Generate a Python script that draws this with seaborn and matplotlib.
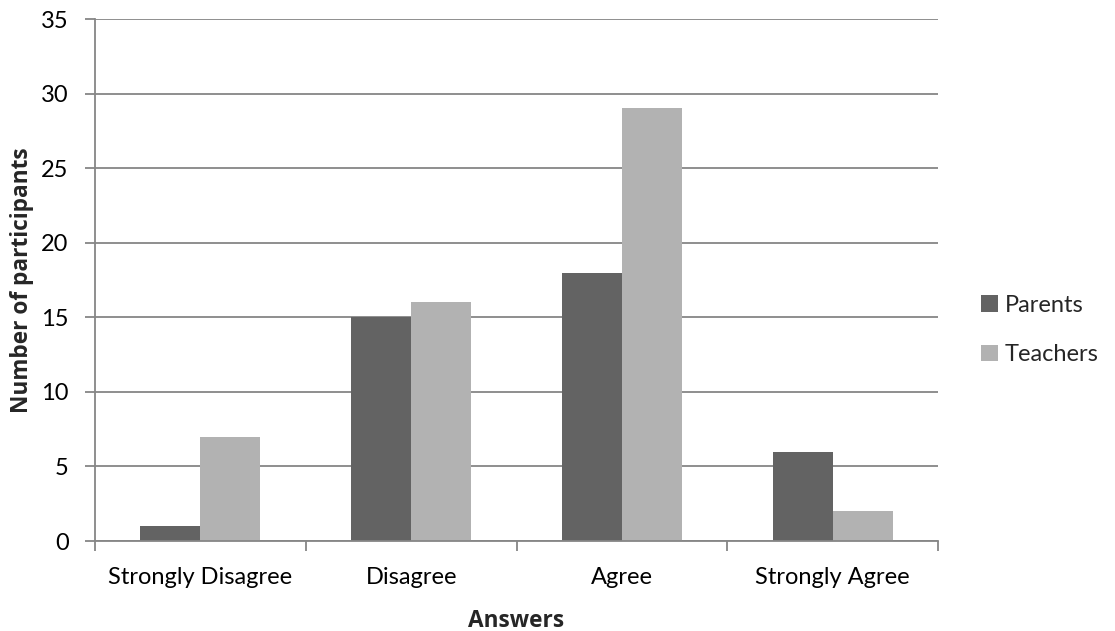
import matplotlib
matplotlib.use("Agg")
import matplotlib.pyplot as plt
from matplotlib.ticker import FixedLocator, MultipleLocator
import seaborn as sns
import pandas as pd

# Survey responses by group
answers = ["Strongly Disagree", "Disagree", "Agree", "Strongly Agree"]
parents = [1, 15, 18, 6]
teachers = [7, 16, 29, 2]
groups = ["Parents", "Teachers"]
group_colors = ["#636363", "#b2b2b2"]

df = pd.DataFrame({
    "Answers": answers * 2,
    "count": parents + teachers,
    "group": [groups[0]] * len(answers) + [groups[1]] * len(answers),
})

sns.set_theme(style="white")
plt.rcParams["font.family"] = ["Lato", "DejaVu Sans"]

W, H, DPI = 1115, 631, 100
fig = plt.figure(figsize=(W / DPI, H / DPI), dpi=DPI)
ax = fig.add_axes([95 / W, 1 - 541 / H, (938 - 95) / W, (541 - 19) / H])

sns.barplot(data=df, x="Answers", y="count", hue="group", order=answers,
            hue_order=groups, palette=group_colors, width=0.57,
            saturation=1, edgecolor="none", linewidth=0, ax=ax, legend=True)

axis_gray = "#868686"
ax.set_ylim(0, 35)
ax.set_xlim(-0.5, len(answers) - 0.5)
ax.yaxis.set_major_locator(MultipleLocator(5))
ax.yaxis.grid(True, color=axis_gray, linewidth=1.3)
ax.set_axisbelow(True)

for side in ("top", "right"):
    ax.spines[side].set_visible(False)
for side in ("left", "bottom"):
    ax.spines[side].set_color(axis_gray)
    ax.spines[side].set_linewidth(1.3)

fs = 17
bold_font = dict(family=["Open Sans", "DejaVu Sans"], weight="bold", size=16.3)

ax.tick_params(axis="y", which="major", length=7, width=1.3, color=axis_gray,
               direction="out", labelsize=fs, labelcolor="black", pad=12, left=True)
ax.tick_params(axis="x", which="major", length=0, labelsize=fs,
               labelcolor="black", pad=19)
ax.xaxis.set_minor_locator(FixedLocator([i - 0.5 for i in range(len(answers) + 1)]))
ax.tick_params(axis="x", which="minor", length=7, width=1.3, color=axis_gray,
               direction="out", bottom=True)

ax.set_xlabel("Answers", fontdict=bold_font, labelpad=15)
ax.set_ylabel("Number of participants", fontdict=bold_font, labelpad=5)

ax.legend_.remove()
handles, labels = ax.get_legend_handles_labels()
fig.legend(handles, labels, loc="center left", bbox_to_anchor=(981 / W, 1 - 330 / H),
           frameon=False, fontsize=fs, handlelength=0.7, handleheight=0.7,
           handletextpad=0.3, labelspacing=1.2, borderpad=0, borderaxespad=0)

fig.savefig("out.png", dpi=DPI)
